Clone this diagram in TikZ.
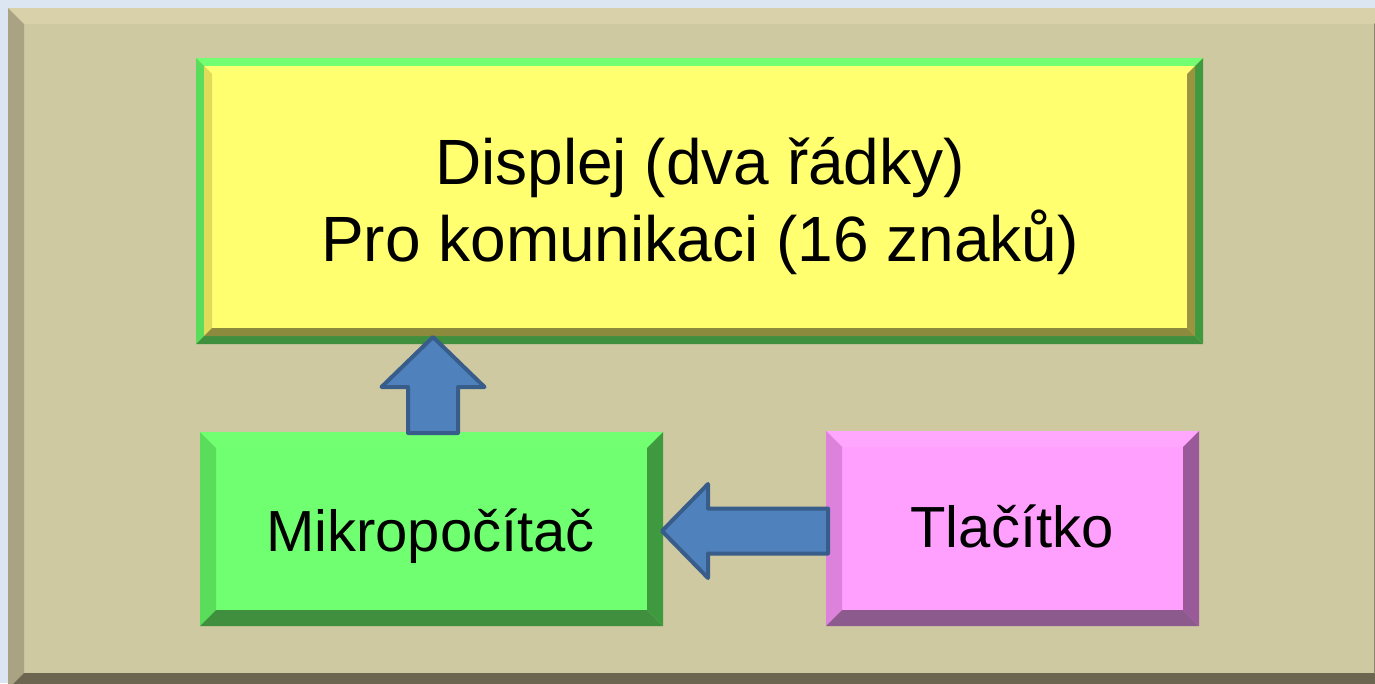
\documentclass[tikz,border=0pt]{standalone}
\usepackage{fontspec}
\setmainfont{Liberation Sans}
\usetikzlibrary{calc}

% palette
\definecolor{pagebg}{HTML}{DCE6F2}
\definecolor{panelface}{HTML}{CFC9A1}
\definecolor{paneltop}{HTML}{D9D1A9}
\definecolor{panelleft}{HTML}{A9A383}
\definecolor{panelright}{HTML}{8C866C}
\definecolor{panelbottom}{HTML}{6C6650}
\definecolor{grnface}{HTML}{70FF70}
\definecolor{grntop}{HTML}{72FF72}
\definecolor{grnleft}{HTML}{5ADD5A}
\definecolor{grnright}{HTML}{3F9A3F}
\definecolor{grnbottom}{HTML}{3F8F3F}
\definecolor{yelface}{HTML}{FFFF70}
\definecolor{yeltop}{HTML}{FFFF72}
\definecolor{yelleft}{HTML}{E0DC5A}
\definecolor{yelright}{HTML}{9A9440}
\definecolor{yelbottom}{HTML}{8C8A3C}
\definecolor{pnkface}{HTML}{FFA0FF}
\definecolor{pnktop}{HTML}{FFA6FF}
\definecolor{pnkleft}{HTML}{DC82DC}
\definecolor{pnkright}{HTML}{9A5A9A}
\definecolor{pnkbottom}{HTML}{8C5A8C}
\definecolor{arrowfill}{HTML}{4F81BD}
\definecolor{arrowline}{HTML}{385D8A}

% bevelled rim around a named rectangular node:
% #1 node, #2 rim width, #3 top, #4 left, #5 right, #6 bottom
\newcommand\bevelrim[6]{%
  \fill[#3] (#1.north west) -- (#1.north east) -- ($(#1.north east)+(-#2,#2)$) -- ($(#1.north west)+(#2,#2)$) -- cycle;
  \fill[#4] (#1.north west) -- ($(#1.north west)+(#2,#2)$) -- ($(#1.south west)+(#2,-#2)$) -- (#1.south west) -- cycle;
  \fill[#5] (#1.north east) -- ($(#1.north east)+(-#2,#2)$) -- ($(#1.south east)+(-#2,-#2)$) -- (#1.south east) -- cycle;
  \fill[#6] (#1.south west) -- ($(#1.south west)+(#2,-#2)$) -- ($(#1.south east)+(-#2,-#2)$) -- (#1.south east) -- cycle;
}

\tikzset{
  box/.style={rectangle, draw=none, inner sep=0pt, outer sep=0pt},
  lbl/.style={inner sep=0pt, outer sep=0pt, text=black, font=\fontsize{58}{70}\selectfont},
  biglbl/.style={lbl, font=\fontsize{64}{76}\selectfont},
  blockarrow/.style={fill=arrowfill, draw=arrowline, line width=4pt, line join=round},
}

\begin{document}
\begin{tikzpicture}[x=1pt, y=-1pt]
  \useasboundingbox (0,0) rectangle (1375,683);
  \fill[pagebg] (0,0) rectangle (1375,683);

  % raised background panel
  \node[box, fill=panelface, minimum width=1382pt, minimum height=681pt] (panel) at (699,348.5) {};
  \bevelrim{panel}{16}{paneltop}{panelleft}{panelright}{panelbottom}

  % display block: green outer rim, yellow inner rim
  \node[box, fill=yelface, minimum width=1007pt, minimum height=286pt] (disp) at (699.5,201) {};
  \bevelrim{disp}{8}{grntop}{grnleft}{grnright}{grnbottom}
  \node[box, minimum width=991pt, minimum height=270pt] (dispin) at (disp.center) {};
  \bevelrim{dispin}{8}{yeltop}{yelleft}{yelright}{yelbottom}

  % microcomputer block
  \node[box, fill=grnface, minimum width=463pt, minimum height=194pt] (mcu) at (431.5,529) {};
  \bevelrim{mcu}{16}{grntop}{grnleft}{grnright}{grnbottom}

  % push-button block
  \node[box, fill=pnkface, minimum width=373pt, minimum height=195pt] (btn) at (1012.5,528.5) {};
  \bevelrim{btn}{16}{pnktop}{pnkleft}{pnkright}{pnkbottom}

  % labels
  \node[biglbl, anchor=base] (dtext1) at ($(disp.north)+(0.5,126)$) {Displej (dva řádky)};
  \node[biglbl, anchor=base] (dtext2) at ($(disp.north)+(0.5,203)$) {Pro komunikaci (16 znaků)};
  \node[lbl, anchor=base] (mtext) at ($(mcu.north)+(-1,119)$) {Mikropočítač};
  \node[lbl, anchor=base] (ttext) at ($(btn.north)+(-0.5,116)$) {Tlačítko};

  % block arrows: microcomputer -> display, button -> microcomputer
  \coordinate (uptip) at ($(mcu.north |- disp.south)+(1.5,-7)$);
  \draw[blockarrow] (uptip) -- ++(51.5,50) -- ++(-26.5,0) -- ++(0,46) -- ++(-50,0)
    -- ++(0,-46) -- ++(-26.5,0) -- cycle;
  \coordinate (lefttip) at ($(mcu.east)+(-1,2)$);
  \draw[blockarrow] (lefttip) -- ++(46,-47) -- ++(0,24.5) -- ++(120,0) -- ++(0,45)
    -- ++(-120,0) -- ++(0,24.5) -- cycle;
\end{tikzpicture}
\end{document}
